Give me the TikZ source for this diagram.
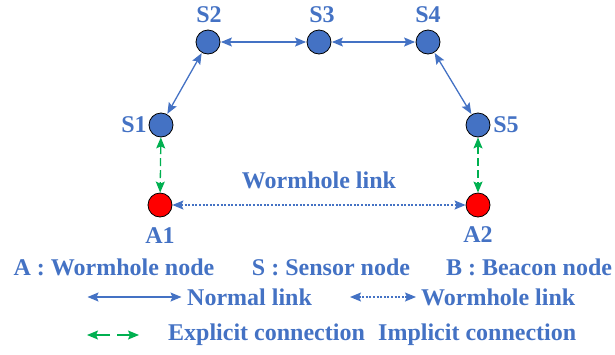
\documentclass[tikz,border=0pt]{standalone}
\usepackage{fontspec}
\setmainfont{Liberation Serif}
\usetikzlibrary{arrows.meta}
\definecolor{nblue}{HTML}{4472C4}
\definecolor{ngreen}{HTML}{00B050}
\definecolor{nred}{HTML}{FF0000}
\tikzset{
  snode/.style={circle,draw=black,line width=0.8pt,fill=nblue,minimum size=24pt,inner sep=0pt},
  anode/.style={circle,draw=black,line width=0.8pt,fill=nred,minimum size=24pt,inner sep=0pt},
  lbl/.style={text=nblue,font=\bfseries\fontsize{24}{27}\selectfont,inner sep=0pt},
  nlink/.style={draw=nblue,line width=1.3pt,{Stealth[length=11pt,width=9pt,inset=2pt]}-{Stealth[length=11pt,width=9pt,inset=2pt]},shorten <=0.5pt,shorten >=0.5pt},
  wlink/.style={draw=nblue,line width=1.3pt,dash pattern=on 2pt off 1.6pt,{Stealth[length=11pt,width=9pt,inset=2pt]}-{Stealth[length=11pt,width=9pt,inset=2pt]}},
  glink/.style={draw=ngreen,line width=1.3pt,dash pattern=on 8pt off 4pt,{Stealth[length=11pt,width=9pt,inset=2pt]}-{Stealth[length=11pt,width=9pt,inset=2pt]}},
  garrow/.style={draw=ngreen,line width=1.3pt,-{Stealth[length=11pt,width=9pt,inset=2pt]}},
}
\begin{document}
\begin{tikzpicture}[x=1pt,y=-1pt]
\useasboundingbox (0,0) rectangle (615,354);
% nodes
\node[snode] (S1) at (161,125) {};
\node[snode] (S2) at (208,42) {};
\node[snode] (S3) at (319,42) {};
\node[snode] (S4) at (428,42) {};
\node[snode] (S5) at (478,125) {};
\node[anode] (A1) at (160,205) {};
\node[anode] (A2) at (478,205) {};
% labels
\node[lbl] (lS1) at (134,125) {S1};
\node[lbl] (lS2) at (209,15) {S2};
\node[lbl] (lS3) at (322,15) {S3};
\node[lbl] (lS4) at (428,15) {S4};
\node[lbl] (lS5) at (506,125) {S5};
\node[lbl] (lA1) at (160,236) {A1};
\node[lbl] (lA2) at (478,235) {A2};
\node[lbl] (lW) at (319,180) {Wormhole link};
% connectors
\draw[nlink] (S1) -- (S2);
\draw[nlink] (S2) -- (S3);
\draw[nlink] (S3) -- (S4);
\draw[nlink] (S4) -- (S5);
\draw[wlink] (A1) -- (A2);
\draw[glink] (S1) -- (A1);
\draw[glink] (S5) -- (A2);
% legend
\node[lbl] (L1) at (114,267) {A : Wormhole node};
\node[lbl] (L2) at (331,267) {S : Sensor node};
\node[lbl] (L3) at (529,267) {B : Beacon node};
\coordinate (n1) at (87,297);
\coordinate (n2) at (182,297);
\draw[nlink] (n1) -- (n2);
\node[lbl,anchor=west] (L4) at (187,297) {Normal link};
\coordinate (w1) at (350,297);
\coordinate (w2) at (416,297);
\draw[wlink] (w1) -- (w2);
\node[lbl,anchor=west] (L5) at (421,297) {Wormhole link};
\coordinate (g1) at (110,335);
\coordinate (g2) at (87,335);
\coordinate (g3) at (117,335);
\coordinate (g4) at (139,335);
\draw[garrow] (g1) -- (g2);
\draw[garrow] (g3) -- (g4);
\node[lbl,anchor=west] (L6) at (168,335) {Explicit connection};
\node[lbl,anchor=west] (L7) at (378,335) {Implicit connection};
\end{tikzpicture}
\end{document}
